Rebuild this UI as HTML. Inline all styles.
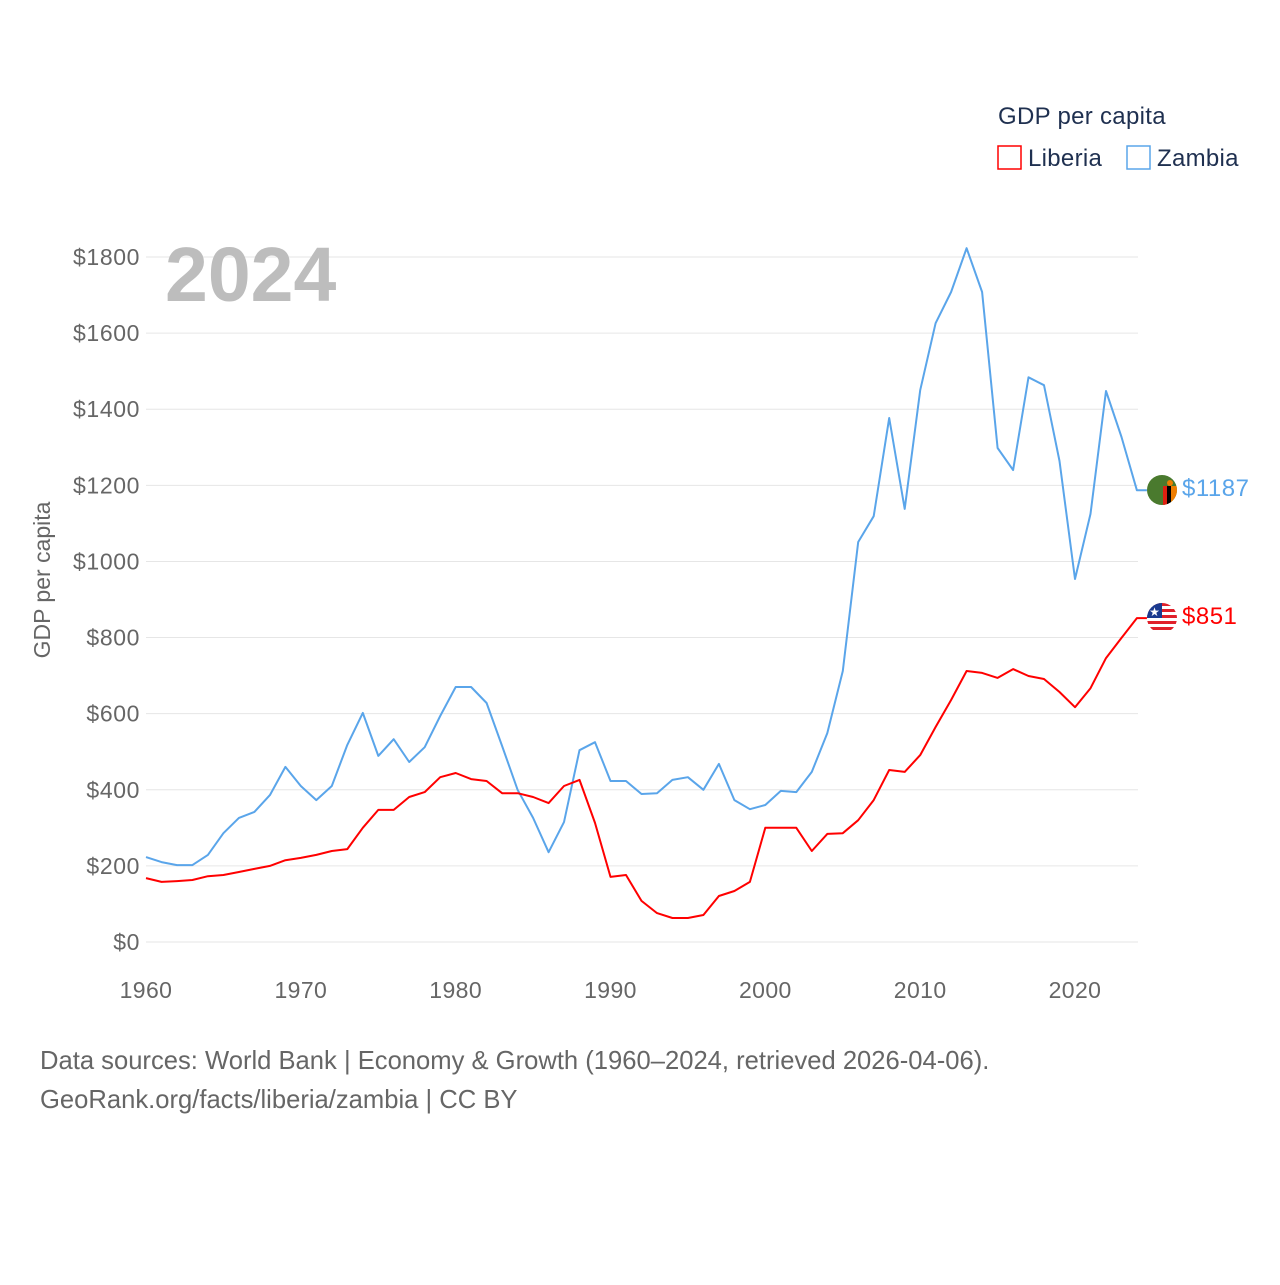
<!DOCTYPE html>
<html><head><meta charset="utf-8"><style>
body{margin:0;background:#fff;font-family:"Liberation Sans",sans-serif}
svg text{font-family:"Liberation Sans",sans-serif}
</style></head><body>
<svg width="1280" height="1280" xmlns="http://www.w3.org/2000/svg">
<g id="grid"></g>
<g id="yt" font-size="23" fill="#666" text-anchor="end" letter-spacing="0.6"></g>
<g id="xt" font-size="23" fill="#666" text-anchor="middle" letter-spacing="0.4"></g>
<text x="165" y="301" font-size="77" font-weight="bold" fill="#bdbdbd">2024</text>
<text transform="translate(50,580) rotate(-90)" font-size="23" fill="#666" text-anchor="middle">GDP per capita</text>
<g letter-spacing="0.3">
<text x="998" y="124" font-size="24" fill="#1f3050">GDP per capita</text>
<g><rect x="998" y="146" width="23" height="23" fill="none" stroke="#f00" stroke-width="1.5"/><text x="1028" y="166" font-size="24" fill="#1f3050">Liberia</text></g>
<g><rect x="1127" y="146" width="23" height="23" fill="none" stroke="#5aa5ea" stroke-width="1.5"/><text x="1157" y="166" font-size="24" fill="#1f3050">Zambia</text></g>
</g>
<g id="series"></g>
<g>
<clipPath id="cz"><circle cx="1162" cy="490" r="15"/></clipPath>
<g clip-path="url(#cz)"><rect x="1147" y="475" width="30" height="30" fill="#4a7a2e"/><rect x="1163" y="486" width="4" height="19" fill="#de2010"/><rect x="1167" y="486" width="4" height="19" fill="#000"/><rect x="1171" y="486" width="6" height="19" fill="#ef7d00"/><circle cx="1170" cy="483" r="3" fill="#ef7d00"/></g>
</g>
<g>
<clipPath id="cl"><circle cx="1162" cy="618" r="15"/></clipPath>
<g clip-path="url(#cl)"><rect x="1147" y="603" width="30" height="30" fill="#fff"/>
<rect x="1147" y="603" width="30" height="3" fill="#e0202a"/><rect x="1147" y="609" width="30" height="3" fill="#e0202a"/><rect x="1147" y="615" width="30" height="3" fill="#e0202a"/><rect x="1147" y="621" width="30" height="3" fill="#e0202a"/><rect x="1147" y="627" width="30" height="3" fill="#e0202a"/>
<rect x="1147" y="603" width="15" height="15" fill="#1a3a8f"/><text x="1154.5" y="616" font-size="12" fill="#fff" text-anchor="middle">★</text></g>
</g>
<text x="1182" y="496" font-size="24" fill="#5aa5ea" letter-spacing="0.5">$1187</text>
<text x="1182" y="624" font-size="24" fill="#f00" letter-spacing="0.5">$851</text>
<g font-size="25.6" fill="#666">
<text x="40" y="1069">Data sources: World Bank | Economy &amp; Growth (1960–2024, retrieved 2026-04-06).</text>
<text x="40" y="1108">GeoRank.org/facts/liberia/zambia | CC BY</text>
</g>
</svg>
<script>
const years=[];for(let y=1960;y<=2024;y++)years.push(y);
const zambia=[223,210,202,202,229,286,326,342,386,460,410,373,410,518,602,489,533,473,512,594,670,670,628,515,400,326,236,315,504,525,423,423,389,391,426,433,400,468,373,349,360,397,394,447,549,712,1051,1119,1377,1138,1450,1626,1708,1823,1708,1298,1240,1484,1463,1264,954,1125,1448,1327,1187];
const liberia=[168,158,160,163,173,176,184,192,200,215,221,229,239,244,300,347,347,381,394,433,444,428,423,391,391,381,365,410,426,313,171,176,108,76,63,63,71,121,134,158,300,300,300,239,284,286,320,373,452,447,491,565,636,712,707,694,717,699,691,657,617,667,746,799,851];
const yTicks=[0,200,400,600,800,1000,1200,1400,1600,1800];
const xTicks=[1960,1970,1980,1990,2000,2010,2020];
const X=y=>146+(y-1960)*(1075-146)/60;
const Y=v=>942-v*(942-257)/1800;
const NS="http://www.w3.org/2000/svg";
const grid=document.getElementById('grid'),yt=document.getElementById('yt'),xt=document.getElementById('xt'),ser=document.getElementById('series');
yTicks.forEach(v=>{
 const l=document.createElementNS(NS,'line');
 l.setAttribute('x1',146);l.setAttribute('x2',1138);l.setAttribute('y1',Y(v));l.setAttribute('y2',Y(v));
 l.setAttribute('stroke','#e6e6e6');l.setAttribute('stroke-width',1);
 
 
 grid.appendChild(l);
 const t=document.createElementNS(NS,'text');
 t.setAttribute('x',140);t.setAttribute('y',Y(v)+8);t.textContent='$'+v;
 
 
 yt.appendChild(t);
});
xTicks.forEach(v=>{
 const t=document.createElementNS(NS,'text');
 t.setAttribute('x',X(v));t.setAttribute('y',998);t.textContent=v;
 
 
 xt.appendChild(t);
});
function line(data,color,name){
 const p=document.createElementNS(NS,'polyline');
 const pts=data.map((v,i)=>X(years[i]).toFixed(1)+','+Y(v).toFixed(1));
 pts.push((X(2024)+10)+','+Y(data[data.length-1]).toFixed(1));
 p.setAttribute('points',pts.join(' '));
 p.setAttribute('fill','none');p.setAttribute('stroke',color);p.setAttribute('stroke-width',2);p.setAttribute('stroke-linejoin','round');
 
 
 ser.appendChild(p);
}
line(zambia,'#5aa5ea','zambia-line');
line(liberia,'#f00','liberia-line');
</script>
</body></html>
